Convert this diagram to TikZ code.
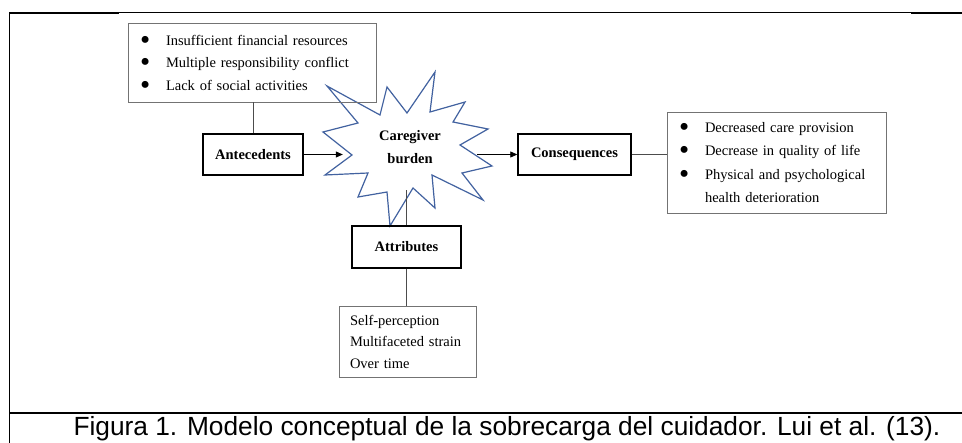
\documentclass[tikz,border=0pt]{standalone}
\usepackage{fontspec}
\setmainfont{Liberation Serif}
\newfontfamily\capfont{Liberation Sans}
\usetikzlibrary{arrows.meta}
\definecolor{starblue}{RGB}{66,98,160}
\newcommand{\blt}{\makebox[26pt][l]{\smash{\raisebox{-0.28em}{\scalebox{2}{\textbullet}}}}}

\begin{document}
\begin{tikzpicture}[x=1pt,y=-1pt,
    listbox/.style={draw=black!55, line width=0.8pt, rectangle, align=left, inner ysep=0pt},
    labelbox/.style={draw, line width=1.4pt, rectangle, font=\fontsize{14.5}{17}\selectfont\bfseries},
    link/.style={draw=black!70, line width=0.8pt},
    flow/.style={-{Triangle[length=7pt,width=6pt]}, line width=0.8pt}]
\useasboundingbox (0,0) rectangle (962,443);

% Frame
\draw[line width=1pt] (9,13) -- (962,13);
\draw[line width=2pt] (9,13) -- (119,13);
\draw[line width=2pt] (911,13) -- (962,13);
\draw[line width=1pt] (9,13) -- (9,443);
\draw[line width=1.3pt] (9,413) -- (962,413);

% Star
\draw[starblue, line width=1.2pt] (327,86) -- (380,115) -- (387,87) -- (407,113) -- (435,72) -- (430,112)
    -- (465,102) -- (453,122) -- (488,129) -- (460,145) -- (492,166) -- (462,173) -- (483,200)
    -- (432,175) -- (435,208) -- (413,188) -- (390,226) -- (387,192) -- (358,197) -- (368,173)
    -- (325,175) -- (352,155) -- (323,132) -- (358,123) -- cycle;
\node[minimum width=134pt, minimum height=86pt, align=center, font=\fontsize{14.5}{23}\selectfont\bfseries] (burden) at (410,147) {Caregiver\\burden};

% Antecedents
\node[listbox, text width=224pt, inner xsep=12pt, minimum height=79pt, font=\fontsize{14.5}{22.5}\selectfont] (antlist) at (252,62.5)
    {\blt Insufficient financial resources\\ \blt Multiple responsibility conflict\\ \blt Lack of social activities};
\node[labelbox, minimum width=100pt, minimum height=41pt] (ante) at (253,154.5) {Antecedents};
\draw[link] (ante.north) -- (ante.north |- antlist.south);
\draw[flow] (ante.east) -- (ante.east -| burden.west);

% Consequences
\node[labelbox, minimum width=113pt, minimum height=41pt] (cons) at (574.5,154.5) {Consequences};
\node[listbox, text width=195pt, inner xsep=12pt, minimum height=101pt, font=\fontsize{14.5}{23.3}\selectfont] (conlist) at (776.5,162.5)
    {\blt Decreased care provision\\ \blt Decrease in quality of life\\ \blt Physical and psychological\\ \hspace*{26pt}health deterioration};
\draw[flow] (cons.west -| burden.east) -- (cons.west);
\draw[link] (cons.east) -- (cons.east -| conlist.west);

% Attributes
\node[labelbox, minimum width=109pt, minimum height=42pt] (attr) at (406.5,247) {Attributes};
\node[listbox, text width=115pt, inner xsep=11pt, minimum height=71pt, font=\fontsize{14.5}{21.5}\selectfont] (attlist) at (407.5,341.5)
    {Self-perception\\ Multifaceted strain\\ Over time};
\draw[link] (attr.north |- burden.south) -- (attr.north);
\draw[link] (attr.south) -- (attr.south |- attlist.north);

% Caption
\node[font=\capfont\fontsize{26.3}{30}\selectfont] (caption) at (507,429) {Figura 1. Modelo conceptual de la sobrecarga del cuidador. Lui et al. (13).};
\end{tikzpicture}
\end{document}
